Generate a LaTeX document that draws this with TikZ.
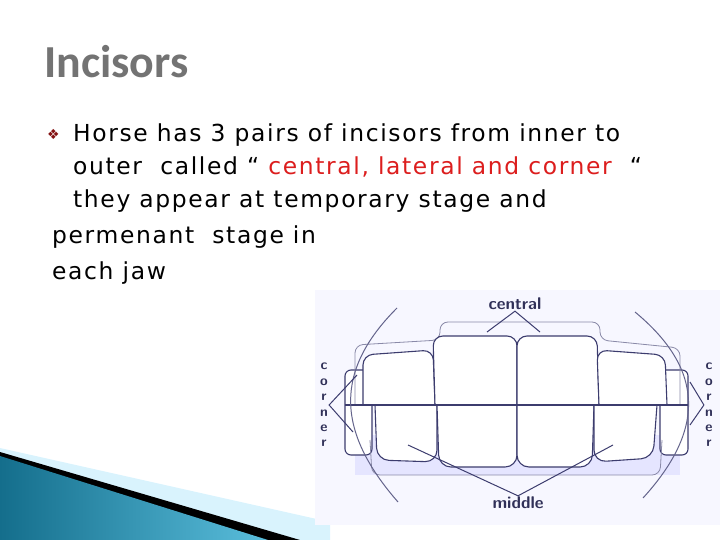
\documentclass[tikz,border=0pt]{standalone}
\usepackage{fontspec}
\setmainfont{DejaVu Sans}
\newfontfamily\titlefont{Carlito}
\newfontfamily\bodyfont[LetterSpace=7]{DejaVu Sans}
\usetikzlibrary{positioning}
\definecolor{inkblue}{RGB}{60,60,110}
\definecolor{slidered}{RGB}{220,30,30}
\definecolor{tealdark}{RGB}{20,110,140}
\definecolor{teallight}{RGB}{90,190,220}
\tikzset{
	tooth/.style={draw=inkblue,line width=1.1pt,fill=white},
	gum/.style={draw=inkblue!60,line width=0.8pt},
	pointer/.style={draw=inkblue,line width=1pt},
	bodytext/.style={anchor=base west,inner sep=0pt,font=\bodyfont\fontsize{23.5}{26}\selectfont},
	toothlabel/.style={inner sep=1pt,text=inkblue!80!black,font=\sffamily\bfseries\fontsize{17}{18}\selectfont},
	cornerlabel/.style={toothlabel,align=center,font=\sffamily\bfseries\fontsize{14}{15.5}\selectfont}
}
\begin{document}
\begin{tikzpicture}[x=1bp,y=-1bp]
	\useasboundingbox (0,0) rectangle (720,540);
	%Bottom left band
	\fill[cyan!15] (0,448) -- (330,522) -- (330,540) -- (0,540) -- cycle;
	\fill[black] (0,452) -- (300,540) -- (0,540) -- cycle;
	\shade[left color=tealdark,right color=teallight] (0,456) -- (268,540) -- (0,540) -- cycle;
	%Title
	\node[anchor=base west,inner sep=0pt,text=black!55,font=\titlefont\bfseries\fontsize{46}{50}\selectfont] (title) at (44,78) {Incisors};
	%Bullet text
	\node[anchor=base west,inner sep=0pt,text=slidered!60!black,font=\fontsize{14}{14}\selectfont] (bullet) at (47,140) {❖};
	\node[bodytext] (line1) at (73,142) {Horse has 3 pairs of incisors from inner to};
	\node[bodytext] (line2) at (73,175) {outer\ \ called “ \textcolor{slidered}{central, lateral and corner}\ \ “};
	\node[bodytext] (line3) at (73,208) {they appear at temporary stage and};
	\node[bodytext] (line4) at (52,244) {permenant\ \ stage in};
	\node[bodytext] (line5) at (52,280) {each jaw};
	%Picture of the teeth
	\fill[blue!3] (315,290) rectangle (720,525);
	\fill[blue!10] (355,435) rectangle (680,475);
	%Corner teeth
	\draw[tooth,rounded corners=6pt] (345,370) rectangle (372,455);
	\draw[tooth,rounded corners=6pt] (660,370) rectangle (688,455);
	%Upper teeth
	\draw[gum,rounded corners=8pt] (355,405) -- (355,345) -- (440,340) -- (440,322) -- (600,322) -- (600,340) -- (680,348) -- (680,405);
	\draw[tooth,rounded corners=10pt] (363,405) -- (363,355) -- (433,350) -- (435,405);
	\draw[tooth,rounded corners=10pt] (435,405) -- (433,336) -- (517,336) -- (517,405);
	\draw[tooth,rounded corners=10pt] (517,405) -- (517,336) -- (597,336) -- (599,405);
	\draw[tooth,rounded corners=10pt] (599,405) -- (597,350) -- (665,355) -- (667,405);
	%Lower teeth
	\draw[tooth,rounded corners=12pt] (375,405) -- (377,460) -- (437,462) -- (437,405);
	\draw[tooth,rounded corners=12pt] (437,405) -- (439,467) -- (517,467) -- (517,405);
	\draw[tooth,rounded corners=12pt] (517,405) -- (517,467) -- (592,467) -- (594,405);
	\draw[tooth,rounded corners=12pt] (594,405) -- (594,462) -- (653,458) -- (657,405);
	\draw[gum,rounded corners=8pt] (370,440) -- (372,475) -- (660,475) -- (662,440);
	%Occlusal line
	\draw[tooth] (345,405) -- (688,405);
	%Lip lines
	\draw[pointer,inkblue!80] (397,308) .. controls (335,370) and (335,430) .. (398,502);
	\draw[pointer,inkblue!80] (635,312) .. controls (705,370) and (705,430) .. (643,498);
	%Labels
	\node[toothlabel] (central) at (515,304) {central};
	\node[toothlabel] (middle) at (518,503) {middle};
	\node[cornerlabel] (cornerL) at (324,405) {c\\o\\r\\n\\e\\r};
	\node[cornerlabel] (cornerR) at (709,405) {c\\o\\r\\n\\e\\r};
	\coordinate (centralL) at (487,332);
	\coordinate (centralR) at (540,332);
	\coordinate (middleL) at (408,445);
	\coordinate (middleR) at (613,445);
	\coordinate (cornerLa) at (357,375);
	\coordinate (cornerLb) at (353,432);
	\coordinate (cornerRa) at (690,382);
	\coordinate (cornerRb) at (690,425);
	\draw[pointer] (centralL) -- (central.south) -- (centralR);
	\draw[pointer] (middleL) -- (middle.north) -- (middleR);
	\draw[pointer] (cornerLa) -- (cornerL.east) -- (cornerLb);
	\draw[pointer] (cornerRa) -- (cornerR.west) -- (cornerRb);
\end{tikzpicture}
\end{document}
